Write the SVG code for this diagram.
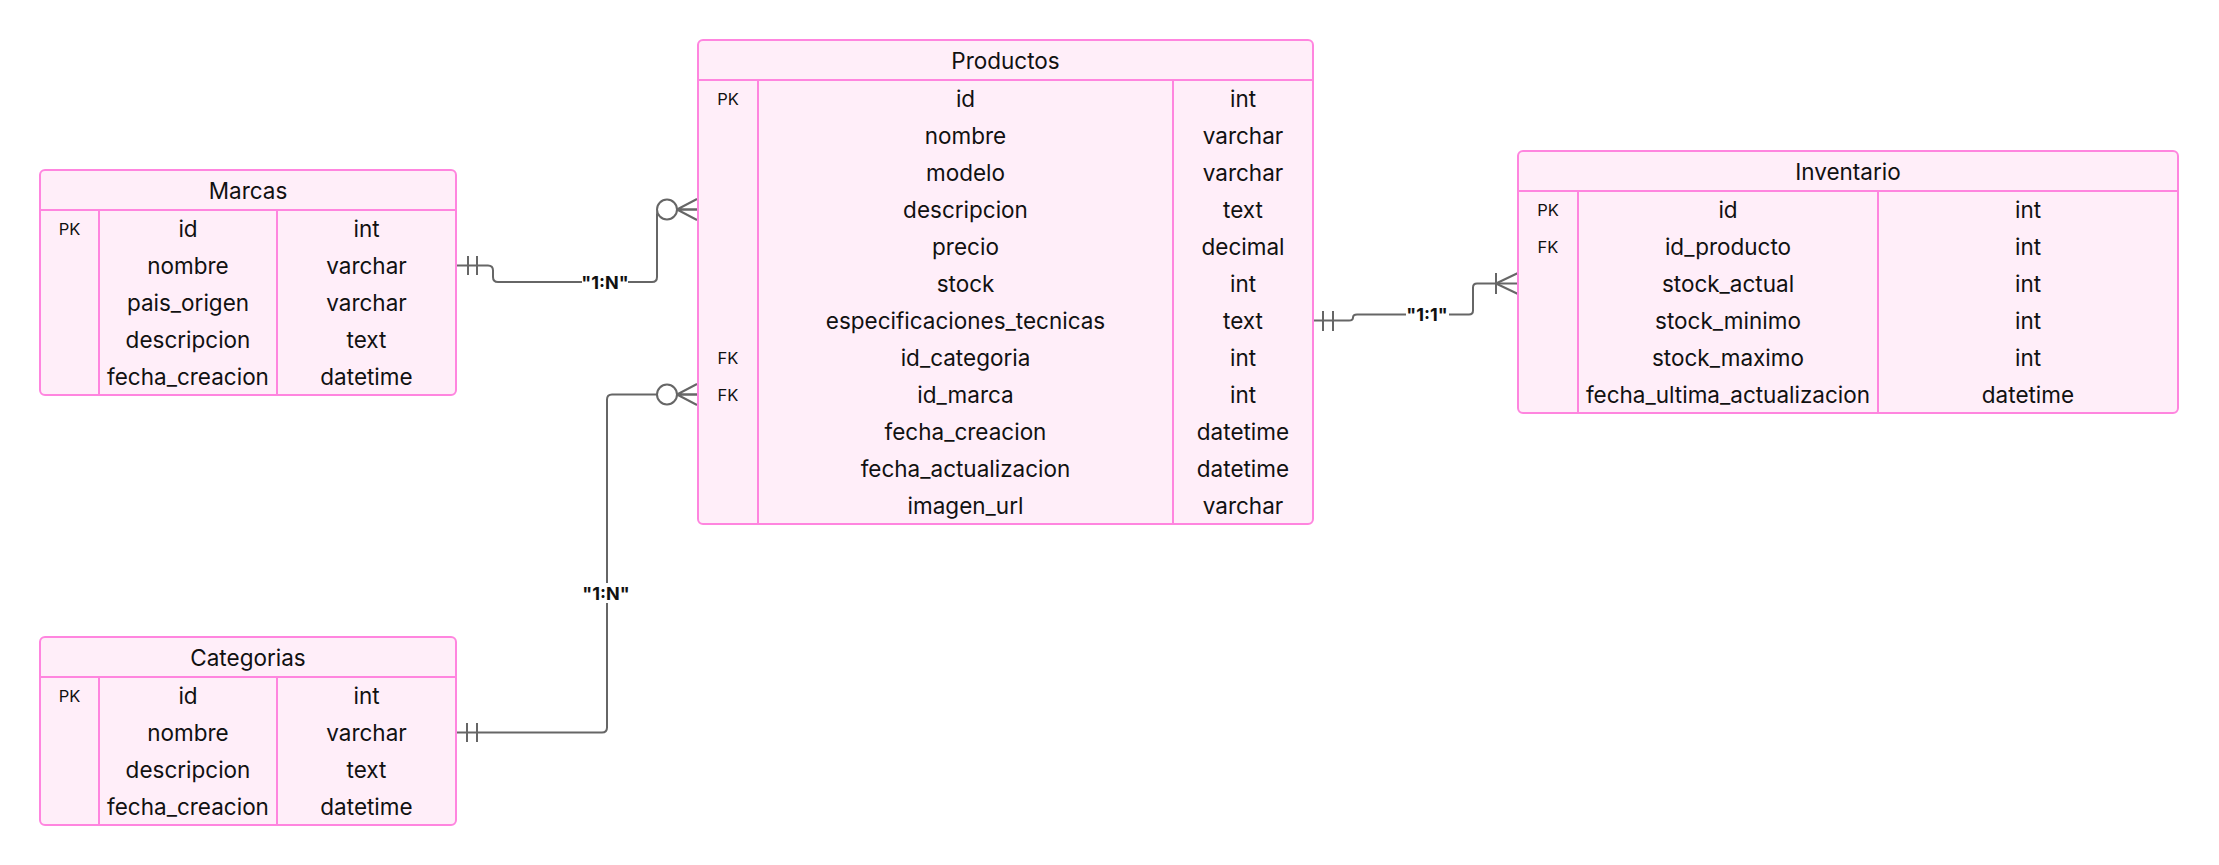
<svg xmlns="http://www.w3.org/2000/svg" width="2219" height="865" viewBox="0 0 2219 865">
<style>
.box{fill:#ffeef9;stroke:#ff85df;stroke-width:2}
.ln{stroke:#ff85df;stroke-width:2;fill:none}
.t{font-family:Inter,"Liberation Sans",sans-serif;font-size:22.5px;fill:#111;text-anchor:middle;dominant-baseline:central}
.k{font-family:Inter,"Liberation Sans",sans-serif;font-size:16.5px;fill:#111;text-anchor:middle;dominant-baseline:central}
.c{stroke:#666;stroke-width:2;fill:none}
.lbl{font-family:Inter,"Liberation Sans",sans-serif;font-size:18px;font-weight:bold;fill:#111;text-anchor:middle;dominant-baseline:central}
</style>
<rect width="2219" height="865" fill="#fff"/>
<g id="connectors">
<path class="c" d="M456,265.5 L488,265.5 Q493,265.5 493,270.5 L493,277 Q493,282 498,282 L652,282 Q657,282 657,277 L657,214.5 Q657,209.5 662,209.5 L697,209.5"/>
<path class="c" d="M468,256 V275 M477,256 V275"/>
<circle cx="667" cy="209.5" r="10" fill="#fff" stroke="#666" stroke-width="2"/>
<path class="c" d="M677,209.5 L697,199 M677,209.5 L697,209.5 M677,209.5 L697,220"/>
<rect x="582" y="272" width="46" height="20" fill="#fff"/>
<text class="lbl" x="605" y="282">"1:N"</text>

<path class="c" d="M456,732.5 L602,732.5 Q607,732.5 607,727.5 L607,399.5 Q607,394.5 612,394.5 L697,394.5"/>
<path class="c" d="M467,723 V742 M477,723 V742"/>
<circle cx="667" cy="394.5" r="10" fill="#fff" stroke="#666" stroke-width="2"/>
<path class="c" d="M677,394.5 L697,384 M677,394.5 L697,394.5 M677,394.5 L697,405"/>
<rect x="583" y="583" width="46" height="20" fill="#fff"/>
<text class="lbl" x="606" y="593">"1:N"</text>

<path class="c" d="M1313,320.5 L1349,320.5 Q1353,320.5 1353,317.5 Q1353,314.5 1357,314.5 L1469,314.5 Q1473,314.5 1473,310.5 L1473,287.5 Q1473,283.5 1477,283.5 L1518,283.5"/>
<path class="c" d="M1323,311 V331 M1333,311 V331"/>
<path class="c" d="M1496,273 V294 M1496,283.5 L1518,273 M1496,283.5 L1518,294"/>
<rect x="1406" y="304" width="43" height="20" fill="#fff"/>
<text class="lbl" x="1427" y="314">"1:1"</text>
</g>

<g id="Marcas">
<rect class="box" x="40" y="170" width="416" height="225" rx="5"/>
<path class="ln" d="M40,210 H456 M99,210 V395 M277,210 V395"/>
<text class="t" x="248" y="190">Marcas</text>
<text class="k" x="69.5" y="228.5">PK</text>
<text class="t" x="188" y="228.5">id</text><text class="t" x="366.5" y="228.5">int</text>
<text class="t" x="188" y="265.5">nombre</text><text class="t" x="366.5" y="265.5">varchar</text>
<text class="t" x="188" y="302.5">pais_origen</text><text class="t" x="366.5" y="302.5">varchar</text>
<text class="t" x="188" y="339.5">descripcion</text><text class="t" x="366.5" y="339.5">text</text>
<text class="t" x="188" y="376.5">fecha_creacion</text><text class="t" x="366.5" y="376.5">datetime</text>
</g>

<g id="Productos">
<rect class="box" x="698" y="40" width="615" height="484" rx="5"/>
<path class="ln" d="M698,80 H1313 M758,80 V524 M1173,80 V524"/>
<text class="t" x="1005.5" y="60">Productos</text>
<text class="k" x="728" y="98.5">PK</text>
<text class="t" x="965.5" y="98.5">id</text><text class="t" x="1243" y="98.5">int</text>
<text class="t" x="965.5" y="135.5">nombre</text><text class="t" x="1243" y="135.5">varchar</text>
<text class="t" x="965.5" y="172.5">modelo</text><text class="t" x="1243" y="172.5">varchar</text>
<text class="t" x="965.5" y="209.5">descripcion</text><text class="t" x="1243" y="209.5">text</text>
<text class="t" x="965.5" y="246.5">precio</text><text class="t" x="1243" y="246.5">decimal</text>
<text class="t" x="965.5" y="283.5">stock</text><text class="t" x="1243" y="283.5">int</text>
<text class="t" x="965.5" y="320.5">especificaciones_tecnicas</text><text class="t" x="1243" y="320.5">text</text>
<text class="k" x="728" y="357.5">FK</text>
<text class="t" x="965.5" y="357.5">id_categoria</text><text class="t" x="1243" y="357.5">int</text>
<text class="k" x="728" y="394.5">FK</text>
<text class="t" x="965.5" y="394.5">id_marca</text><text class="t" x="1243" y="394.5">int</text>
<text class="t" x="965.5" y="431.5">fecha_creacion</text><text class="t" x="1243" y="431.5">datetime</text>
<text class="t" x="965.5" y="468.5">fecha_actualizacion</text><text class="t" x="1243" y="468.5">datetime</text>
<text class="t" x="965.5" y="505.5">imagen_url</text><text class="t" x="1243" y="505.5">varchar</text>
</g>

<g id="Inventario">
<rect class="box" x="1518" y="151" width="660" height="262" rx="5"/>
<path class="ln" d="M1518,191 H2178 M1578,191 V413 M1878,191 V413"/>
<text class="t" x="1848" y="171">Inventario</text>
<text class="k" x="1548" y="209.5">PK</text>
<text class="t" x="1728" y="209.5">id</text><text class="t" x="2028" y="209.5">int</text>
<text class="k" x="1548" y="246.5">FK</text>
<text class="t" x="1728" y="246.5">id_producto</text><text class="t" x="2028" y="246.5">int</text>
<text class="t" x="1728" y="283.5">stock_actual</text><text class="t" x="2028" y="283.5">int</text>
<text class="t" x="1728" y="320.5">stock_minimo</text><text class="t" x="2028" y="320.5">int</text>
<text class="t" x="1728" y="357.5">stock_maximo</text><text class="t" x="2028" y="357.5">int</text>
<text class="t" x="1728" y="394.5">fecha_ultima_actualizacion</text><text class="t" x="2028" y="394.5">datetime</text>
</g>

<g id="Categorias">
<rect class="box" x="40" y="637" width="416" height="188" rx="5"/>
<path class="ln" d="M40,677 H456 M99,677 V825 M277,677 V825"/>
<text class="t" x="248" y="657">Categorias</text>
<text class="k" x="69.5" y="695.5">PK</text>
<text class="t" x="188" y="695.5">id</text><text class="t" x="366.5" y="695.5">int</text>
<text class="t" x="188" y="732.5">nombre</text><text class="t" x="366.5" y="732.5">varchar</text>
<text class="t" x="188" y="769.5">descripcion</text><text class="t" x="366.5" y="769.5">text</text>
<text class="t" x="188" y="806.5">fecha_creacion</text><text class="t" x="366.5" y="806.5">datetime</text>
</g>
</svg>
